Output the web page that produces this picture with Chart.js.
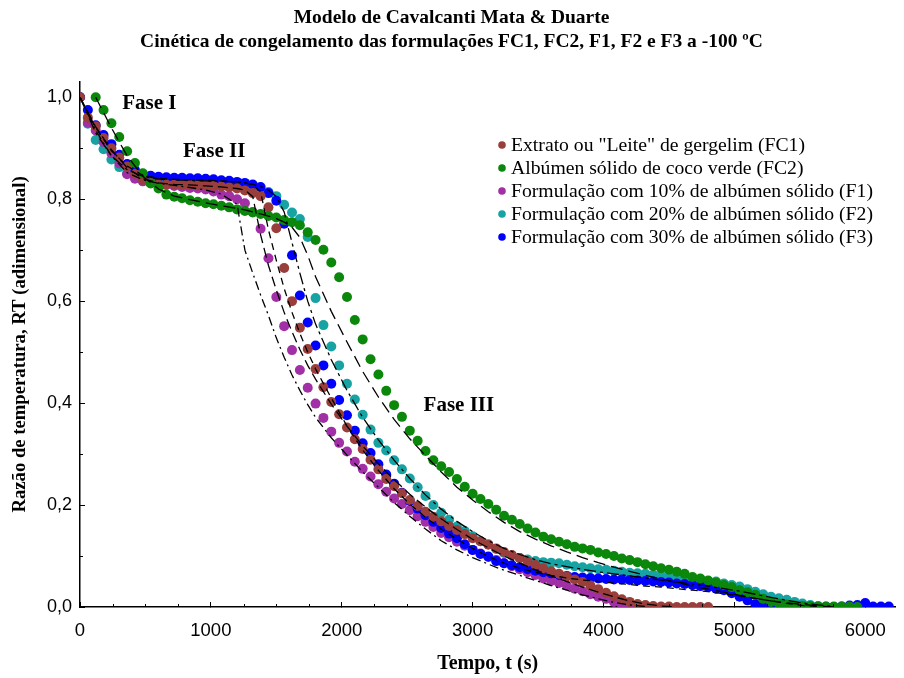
<!DOCTYPE html>
<html lang="pt">
<head>
  <meta charset="UTF-8" />
  <title>Modelo de Cavalcanti Mata & Duarte</title>
  <script src="https://cdn.jsdelivr.net/npm/chart.js@4"></script>
  <style>
    body { margin: 0; background: #fff; }
    canvas { display: block; }
  </style>
</head>
<body>
  <canvas id="grafico" width="904" height="678"></canvas>

  <script>
    // tempo das leituras (s), uma a cada 60 s
    const tempo = [
      0, 60, 120, 180, 240, 300, 360, 420, 480, 540,
      600, 660, 720, 780, 840, 900, 960, 1020, 1080, 1140,
      1200, 1260, 1320, 1380, 1440, 1500, 1560, 1620, 1680, 1740,
      1800, 1860, 1920, 1980, 2040, 2100, 2160, 2220, 2280, 2340,
      2400, 2460, 2520, 2580, 2640, 2700, 2760, 2820, 2880, 2940,
      3000, 3060, 3120, 3180, 3240, 3300, 3360, 3420, 3480, 3540,
      3600, 3660, 3720, 3780, 3840, 3900, 3960, 4020, 4080, 4140,
      4200, 4260, 4320, 4380, 4440, 4500, 4560, 4620, 4680, 4740,
      4800, 4860, 4920, 4980, 5040, 5100, 5160, 5220, 5280, 5340,
      5400, 5460, 5520, 5580, 5640, 5700, 5760, 5820, 5880, 5940,
      6000, 6060, 6120, 6180
    ];

    // razão de temperatura RT medida
    const rtFC1 = [
      1.000, 0.960, 0.943, 0.920, 0.900, 0.882, 0.864, 0.850, 0.838, 0.832,
      0.829, 0.829, 0.829, 0.828, 0.828, 0.827, 0.827, 0.826, 0.825, 0.823,
      0.821, 0.817, 0.812, 0.806, 0.784, 0.743, 0.665, 0.600, 0.548, 0.506,
      0.467, 0.431, 0.402, 0.378, 0.352, 0.329, 0.310, 0.289, 0.270, 0.251,
      0.237, 0.223, 0.210, 0.198, 0.187, 0.177, 0.168, 0.159, 0.151, 0.143,
      0.135, 0.129, 0.122, 0.115, 0.108, 0.102, 0.096, 0.089, 0.083, 0.076,
      0.070, 0.065, 0.060, 0.054, 0.049, 0.042, 0.035, 0.028, 0.021, 0.015,
      0.010, 0.006, 0.004, 0.002, 0.001, 0.001, 0.000, 0.000, 0.000, 0.000,
      0.000
    ];
    const rtFC2 = [
      null, null,
      1.000, 0.975, 0.949, 0.922, 0.894, 0.871, 0.851, 0.831, 0.821, 0.809,
      0.805, 0.802, 0.798, 0.795, 0.792, 0.790, 0.787, 0.784, 0.780, 0.777,
      0.774, 0.771, 0.767, 0.764, 0.759, 0.755, 0.749, 0.735, 0.720, 0.701,
      0.676, 0.647, 0.608, 0.563, 0.525, 0.486, 0.456, 0.424, 0.396, 0.373,
      0.346, 0.326, 0.306, 0.288, 0.276, 0.265, 0.251, 0.236, 0.222, 0.212,
      0.202, 0.191, 0.179, 0.171, 0.163, 0.154, 0.146, 0.138, 0.133, 0.128,
      0.123, 0.118, 0.115, 0.112, 0.107, 0.104, 0.100, 0.095, 0.092, 0.088,
      0.084, 0.080, 0.076, 0.073, 0.069, 0.065, 0.059, 0.056, 0.052, 0.048,
      0.043, 0.039, 0.033, 0.029, 0.024, 0.016, 0.010, 0.007, 0.005, 0.003,
      0.002, 0.002, 0.001, 0.001, 0.001, 0.001, 0.001, 0.000
    ];
    const rtF1 = [
      1.000, 0.950, 0.935, 0.912, 0.890, 0.870, 0.849, 0.840, 0.835, 0.832,
      0.830, 0.828, 0.826, 0.824, 0.822, 0.821, 0.819, 0.815, 0.809, 0.806,
      0.800, 0.792, 0.775, 0.742, 0.684, 0.608, 0.551, 0.504, 0.465, 0.430,
      0.399, 0.371, 0.344, 0.322, 0.305, 0.285, 0.271, 0.256, 0.241, 0.226,
      0.213, 0.202, 0.190, 0.178, 0.167, 0.157, 0.145, 0.137, 0.128, 0.120,
      0.112, 0.105, 0.098, 0.092, 0.086, 0.080, 0.074, 0.068, 0.063, 0.056,
      0.051, 0.047, 0.042, 0.036, 0.031, 0.025, 0.020, 0.016, 0.010, 0.005,
      0.002, 0.001, 0.000, 0.000
    ];
    const rtF2 = [
      1.000, 0.948, 0.916, 0.898, 0.878, 0.863, 0.851, 0.845, 0.841, 0.839,
      0.838, 0.838, 0.837, 0.837, 0.836, 0.836, 0.835, 0.835, 0.834, 0.833,
      0.832, 0.830, 0.826, 0.818, 0.814, 0.806, 0.789, 0.774, 0.761, 0.726,
      0.606, 0.553, 0.511, 0.474, 0.438, 0.407, 0.377, 0.348, 0.322, 0.307,
      0.288, 0.270, 0.252, 0.235, 0.218, 0.200, 0.185, 0.171, 0.158, 0.149,
      0.139, 0.129, 0.123, 0.114, 0.106, 0.101, 0.096, 0.093, 0.090, 0.088,
      0.087, 0.086, 0.083, 0.080, 0.078, 0.076, 0.074, 0.073, 0.071, 0.069,
      0.067, 0.066, 0.065, 0.063, 0.061, 0.058, 0.056, 0.054, 0.053, 0.052,
      0.051, 0.050, 0.046, 0.043, 0.040, 0.035, 0.030, 0.025, 0.020, 0.017,
      0.014, 0.010, 0.007, 0.004, 0.002, 0.001, 0.000, 0.000
    ];
    const rtF3 = [
      1.000, 0.975, 0.945, 0.926, 0.908, 0.887, 0.869, 0.857, 0.849, 0.846,
      0.844, 0.843, 0.842, 0.842, 0.841, 0.841, 0.840, 0.839, 0.837, 0.836,
      0.834, 0.832, 0.829, 0.824, 0.812, 0.797, 0.752, 0.690, 0.611, 0.558,
      0.513, 0.474, 0.438, 0.406, 0.376, 0.346, 0.321, 0.302, 0.280, 0.260,
      0.242, 0.224, 0.208, 0.193, 0.180, 0.167, 0.155, 0.144, 0.135, 0.123,
      0.112, 0.104, 0.099, 0.090, 0.086, 0.082, 0.078, 0.074, 0.071, 0.068,
      0.066, 0.063, 0.061, 0.059, 0.058, 0.057, 0.056, 0.055, 0.054, 0.054,
      0.053, 0.052, 0.051, 0.050, 0.049, 0.048, 0.046, 0.045, 0.043, 0.041,
      0.039, 0.036, 0.033, 0.027, 0.020, 0.013, 0.006, 0.002, 0.001, 0.001,
      0.001, 0.000, 0.000, 0.000, 0.000, 0.000, 0.000, 0.001, 0.003, 0.004,
      0.008, 0.001, 0.001, 0.001
    ];

    // curvas do modelo (linhas tracejadas)
    const tModelo = [
      0, 120, 240, 360, 480, 600, 720, 840, 960, 1080, 1200,
      1260, 1320, 1380, 1440, 1500, 1560, 1620, 1680, 1740, 1800,
      1920, 2040, 2160, 2280, 2400, 2520, 2640, 2760, 2880, 3000,
      3120, 3240, 3360, 3480, 3600, 3720, 3840, 3960, 4080, 4200,
      4320, 4440, 4560, 4680, 4800, 4920, 5040, 5160, 5280, 5400,
      5520, 5640, 5760
    ];
    const modFC1 = [
      1.000, 0.942, 0.897, 0.862, 0.840, 0.832, 0.829, 0.828, 0.826, 0.824, 0.821,
      0.818, 0.805, 0.730, 0.670, 0.622, 0.578, 0.540, 0.505, 0.474, 0.447,
      0.398, 0.355, 0.316, 0.281, 0.250, 0.221, 0.196, 0.173, 0.152, 0.133,
      0.116, 0.100, 0.086, 0.073, 0.061, 0.050, 0.039, 0.029, 0.020, 0.012,
      0.006, 0.002, 0.000, null, null, null, null, null, null, null,
      null, null, null
    ];
    const modFC2 = [
      null, 1.000, 0.940, 0.885, 0.845, 0.820, 0.806, 0.799, 0.793, 0.787, 0.782,
      0.779, 0.775, 0.771, 0.767, 0.762, 0.755, 0.745, 0.725, 0.690, 0.648,
      0.580, 0.520, 0.462, 0.412, 0.368, 0.330, 0.297, 0.265, 0.235, 0.210,
      0.187, 0.166, 0.148, 0.133, 0.120, 0.108, 0.097, 0.087, 0.078, 0.070,
      0.062, 0.055, 0.048, 0.041, 0.035, 0.029, 0.023, 0.017, 0.012, 0.008,
      0.005, 0.002, 0.000
    ];
    const modF1 = [
      1.000, 0.935, 0.885, 0.852, 0.838, 0.831, 0.827, 0.823, 0.818, 0.810, 0.790,
      0.700, 0.655, 0.612, 0.572, 0.528, 0.490, 0.455, 0.425, 0.397, 0.372,
      0.332, 0.298, 0.265, 0.235, 0.205, 0.178, 0.153, 0.130, 0.112, 0.097,
      0.084, 0.072, 0.062, 0.052, 0.042, 0.033, 0.024, 0.016, 0.009, 0.004,
      0.001, null, null, null, null, null, null, null, null, null,
      null, null, null
    ];
    const modF2 = [
      1.000, 0.930, 0.885, 0.858, 0.845, 0.840, 0.838, 0.837, 0.836, 0.835, 0.834,
      0.832, 0.829, 0.825, 0.818, 0.805, 0.775, 0.715, 0.655, 0.600, 0.555,
      0.485, 0.425, 0.372, 0.328, 0.288, 0.252, 0.220, 0.192, 0.168, 0.148,
      0.130, 0.115, 0.103, 0.093, 0.085, 0.079, 0.074, 0.069, 0.065, 0.061,
      0.057, 0.053, 0.049, 0.045, 0.041, 0.036, 0.031, 0.025, 0.019, 0.013,
      0.008, 0.004, 0.001
    ];
    const modF3 = [
      1.000, 0.940, 0.895, 0.865, 0.847, 0.841, 0.839, 0.838, 0.837, 0.836, 0.834,
      0.832, 0.828, 0.815, 0.740, 0.680, 0.625, 0.578, 0.537, 0.500, 0.467,
      0.410, 0.355, 0.308, 0.268, 0.232, 0.202, 0.176, 0.153, 0.133, 0.115,
      0.099, 0.086, 0.076, 0.068, 0.062, 0.057, 0.053, 0.050, 0.047, 0.044,
      0.041, 0.039, 0.036, 0.033, 0.030, 0.026, 0.022, 0.017, 0.012, 0.007,
      0.003, 0.001, null
    ];

    const xTicks = [0, 1000, 2000, 3000, 4000, 5000, 6000];
    const yTicks = [0, 0.2, 0.4, 0.6, 0.8, 1.0];

    const serif = "'Liberation Serif', 'Times New Roman', serif";
    const sans = "'Liberation Sans', Arial, sans-serif";

    // order: menor = desenhado por cima
    const series = [
      { label: 'Extrato ou "Leite" de gergelim (FC1)', rt: rtFC1, mod: modFC1, cor: '#9a3e3b', ordem: 2, traco: [10, 5] },
      { label: 'Albúmen sólido de coco verde (FC2)', rt: rtFC2, mod: modFC2, cor: '#0b870b', ordem: 1, traco: [12, 6] },
      { label: 'Formulação com 10% de albúmen sólido (F1)', rt: rtF1, mod: modF1, cor: '#a12fa6', ordem: 4, traco: [9, 4, 2, 4] },
      { label: 'Formulação com 20% de albúmen sólido (F2)', rt: rtF2, mod: modF2, cor: '#17a3a3', ordem: 5, traco: [12, 4, 3, 4] },
      { label: 'Formulação com 30% de albúmen sólido (F3)', rt: rtF3, mod: modF3, cor: '#0000ff', ordem: 3, traco: [7, 5] }
    ];

    const fases = [
      { texto: 'Fase I', t: 530, rt: 0.988 },
      { texto: 'Fase II', t: 1025, rt: 0.893 },
      { texto: 'Fase III', t: 2895, rt: 0.396 }
    ];

    function pontos(ts, valores) {
      return valores
        .map((v, i) => ({ x: ts[i], y: v }))
        .filter(p => p.y !== null);
    }

    const datasets = [];
    series.forEach(s => {
      datasets.push({
        data: pontos(tModelo, s.mod),
        showLine: true,
        borderColor: '#000',
        borderWidth: 1.3,
        borderDash: s.traco,
        pointRadius: 0,
        order: 0
      });
    });
    series.forEach(s => {
      datasets.push({
        label: s.label,
        data: pontos(tempo, s.rt),
        backgroundColor: s.cor,
        borderWidth: 0,
        pointRadius: 5,
        order: s.ordem
      });
    });

    // marcas menores, rótulos das fases e legenda
    const extras = {
      id: 'extras',
      afterDraw(chart) {
        const { ctx, chartArea: a, scales: { x, y } } = chart;
        ctx.save();
        ctx.strokeStyle = '#000';
        ctx.lineWidth = 1;
        ctx.beginPath();
        for (let v = 250; v < x.max; v += 250) {
          if (v % 1000 === 0) continue;
          const px = Math.round(x.getPixelForValue(v)) + 0.5;
          ctx.moveTo(px, a.bottom);
          ctx.lineTo(px, a.bottom - 3);
        }
        for (let v = 0.1; v < 1.0; v += 0.2) {
          const py = Math.round(y.getPixelForValue(v)) + 0.5;
          ctx.moveTo(a.left, py);
          ctx.lineTo(a.left + 3, py);
        }
        ctx.stroke();

        ctx.fillStyle = '#000';
        ctx.font = 'bold 21px ' + serif;
        ctx.textAlign = 'center';
        ctx.textBaseline = 'middle';
        fases.forEach(f => {
          ctx.fillText(f.texto, x.getPixelForValue(f.t), y.getPixelForValue(f.rt));
        });

        ctx.font = '19.7px ' + serif;
        ctx.textAlign = 'left';
        series.forEach((s, i) => {
          const ly = 145 + i * 23;
          ctx.fillStyle = s.cor;
          ctx.beginPath();
          ctx.arc(502, ly, 3.8, 0, Math.PI * 2);
          ctx.fill();
          ctx.fillStyle = '#000';
          ctx.fillText(s.label, 511, ly + 1);
        });
        ctx.restore();
      }
    };

    new Chart(document.getElementById('grafico'), {
      type: 'scatter',
      data: { datasets },
      plugins: [extras],
      options: {
        responsive: false,
        animation: false,
        events: [],
        layout: { padding: { left: 0, right: 1, top: 0, bottom: 0 } },
        plugins: {
          legend: { display: false },
          tooltip: { enabled: false },
          title: {
            display: true,
            text: [
              'Modelo de Cavalcanti Mata & Duarte',
              'Cinética de congelamento das formulações FC1, FC2, F1, F2 e F3 a -100 ºC'
            ],
            color: '#000',
            font: { family: serif, size: 19.5, weight: 'bold', lineHeight: 1.23 },
            padding: { top: 6, bottom: 28 }
          }
        },
        scales: {
          x: {
            type: 'linear',
            min: 0,
            max: 6230,
            afterBuildTicks: s => { s.ticks = xTicks.map(v => ({ value: v })); },
            afterFit: s => { s.height = 71; },
            border: { color: '#000', width: 1.5 },
            grid: { drawOnChartArea: false, tickLength: -5, tickColor: '#000', tickWidth: 1 },
            ticks: {
              color: '#000',
              font: { family: sans, size: 18.5 },
              padding: 18,
              maxRotation: 0,
              callback: v => String(v)
            },
            title: {
              display: true,
              text: 'Tempo, t (s)',
              color: '#000',
              font: { family: serif, size: 20, weight: 'bold' },
              padding: { bottom: 2 }
            }
          },
          y: {
            min: 0,
            max: 1.03,
            afterBuildTicks: s => { s.ticks = yTicks.map(v => ({ value: v })); },
            afterFit: s => { s.width = 80; },
            border: { color: '#000', width: 1.5 },
            grid: { drawOnChartArea: false, tickLength: -5, tickColor: '#000', tickWidth: 1 },
            ticks: {
              color: '#000',
              font: { family: sans, size: 18 },
              padding: 13,
              callback: v => v.toFixed(1).replace('.', ',')
            },
            title: {
              display: true,
              text: 'Razão de temperatura, RT (adimensional)',
              color: '#000',
              font: { family: serif, size: 18.7, weight: 'bold' },
              padding: { top: 9 }
            }
          }
        }
      }
    });
  </script>
</body>
</html>
